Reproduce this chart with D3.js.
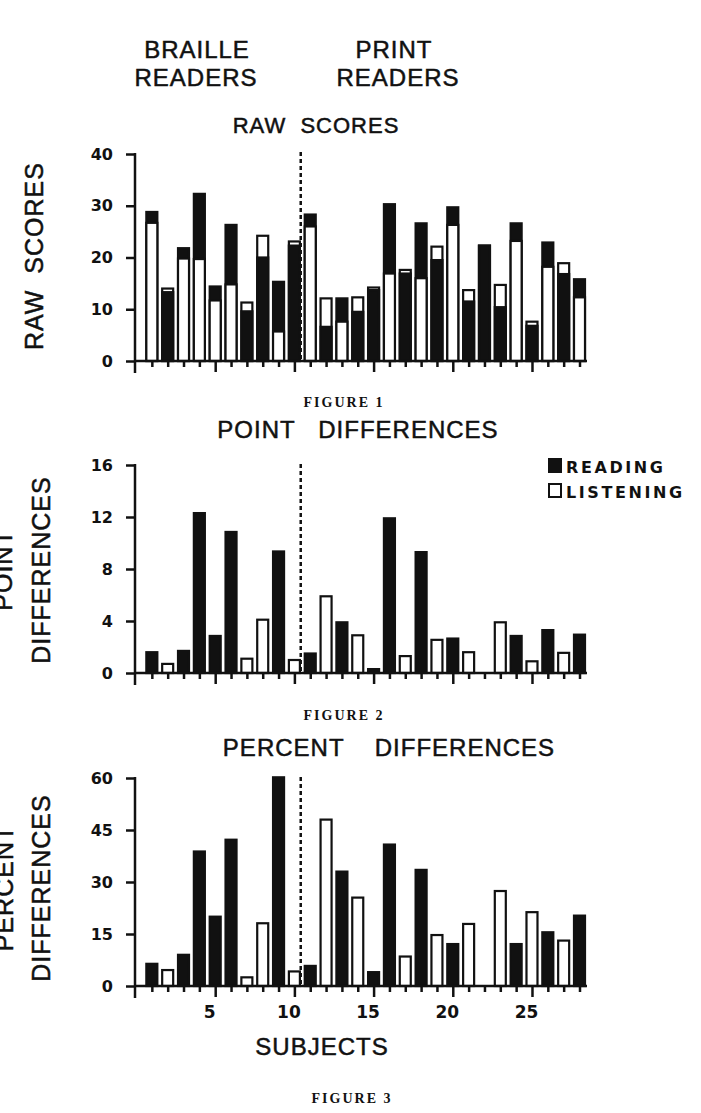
<!DOCTYPE html>
<html>
<head>
<meta charset="utf-8">
<script src="https://cdn.jsdelivr.net/npm/d3@7"></script>
<style>
  html, body { margin: 0; padding: 0; background: #fff; }
  svg { display: block; }
  .head { font-family: "Liberation Sans", Arial, sans-serif; fill: #111; stroke: #111; stroke-width: 0.5; letter-spacing: 1px; }
  .cap { font-family: "Liberation Serif", "DejaVu Serif", serif; font-weight: bold; fill: #111; letter-spacing: 2px; }
  .legend { font-family: "DejaVu Sans", sans-serif; font-weight: bold; fill: #111; letter-spacing: 2.6px; }
  .tick text { font-family: "DejaVu Sans", sans-serif; font-weight: bold; fill: #111; }
  .tick line, .axis-line { stroke: #111; stroke-width: 2.5; }
</style>
</head>
<body>
<svg id="chart" width="701" height="1113"></svg>
<script>
// subjects 1..28, braille readers 1-10, print readers 11-28
const subjects = d3.range(1, 29);

// Figure 1: raw scores
const reading = [28.8, 13.3, 21.8, 32.3, 14.4, 26.3, 9.6, 20.0, 15.3, 22.3,
  28.3, 6.6, 12.1, 9.5, 13.7, 30.3, 16.9, 26.6, 19.5, 29.7,
  11.5, 22.3, 10.4, 26.6, 6.8, 22.9, 16.8, 15.8];
const listening = [26.7, 14.0, 19.8, 19.7, 11.7, 14.8, 11.3, 24.2, 5.7, 23.1,
  26.0, 12.1, 7.6, 12.3, 14.2, 16.9, 17.6, 16.0, 22.1, 26.3,
  13.7, 22.3, 14.7, 23.2, 7.6, 18.2, 18.9, 12.3];

// which modality scored higher (R = reading, L = listening, "" = none)
const higher = ["R", "L", "R", "R", "R", "R", "L", "L", "R", "L",
  "R", "L", "R", "L", "R", "R", "L", "R", "L", "R",
  "L", "", "L", "R", "L", "R", "L", "R"];

// Figure 2: point differences
const pointDiff = [1.6, 0.7, 1.7, 12.3, 2.85, 10.85, 1.1, 4.1, 9.35, 1.0,
  1.5, 5.9, 3.9, 2.9, 0.3, 11.9, 1.3, 9.3, 2.55, 2.65,
  1.6, 0, 3.9, 2.85, 0.9, 3.3, 1.55, 2.95];

// Figure 3: percent differences
const percentDiff = [6.4, 4.6, 9.0, 38.8, 20.0, 42.2, 2.5, 18.1, 60.2, 4.2,
  5.8, 48.0, 33.0, 25.5, 4.0, 40.8, 8.5, 33.5, 14.7, 12.1,
  17.9, 0, 27.4, 12.1, 21.3, 15.5, 13.1, 20.3];

const rawTicks = [0, 10, 20, 30, 40];
const pointTicks = [0, 4, 8, 12, 16];
const percentTicks = [0, 15, 30, 45, 60];
const subjectLabels = [5, 10, 15, 20, 25];

const groupSplit = 10.4; // dashed line between braille and print readers
const barWidth = 11;
const colors = { R: "#111", L: "#fff" };

const svg = d3.select("#chart");
const x = d3.scaleLinear().domain([0, 28]).range([136, 579.5]);

/**
 * y軸（目盛と数値）を描く
 */
function drawYAxis(y, ticks) {
  const g = svg.append("g").attr("transform", "translate(135,0)");
  g.call(d3.axisLeft(y).tickValues(ticks).tickSize(9).tickPadding(13).tickSizeOuter(0));
  g.select(".domain").remove();
  g.selectAll(".tick text").attr("font-size", 16);
  svg.append("line").attr("class", "axis-line")
    .attr("x1", 135).attr("x2", 135)
    .attr("y1", y(ticks[ticks.length - 1]) - 1).attr("y2", y(0) + 12);
}

/**
 * x軸（被験者ごとの目盛）を描く
 */
function drawXAxis(y, withLabels) {
  const g = svg.append("g").attr("transform", `translate(0,${y(0)})`);
  g.call(d3.axisBottom(x).tickValues(d3.range(1, 29)).tickSize(6).tickPadding(14)
    .tickFormat((d) => (withLabels && subjectLabels.includes(d) ? d : "")));
  g.select(".domain").remove();
  g.selectAll(".tick line").attr("y2", (d) => (d % 5 === 0 ? 11 : 6));
  g.selectAll(".tick text").attr("font-size", 17).attr("dx", -6);
  svg.append("line").attr("class", "axis-line")
    .attr("x1", 134).attr("x2", 587)
    .attr("y1", y(0)).attr("y2", y(0));
}

/**
 * 点線の区切り（点字読者 / 活字読者）
 */
function drawDivider(y, top) {
  svg.append("line")
    .attr("x1", x(groupSplit)).attr("x2", x(groupSplit))
    .attr("y1", top).attr("y2", y(0))
    .attr("stroke", "#111").attr("stroke-width", 2.5)
    .attr("stroke-dasharray", "4,3");
}

/**
 * 図1: 読み・聴きの得点を重ねて描く（高い方を奥、低い方を手前）
 */
function drawRawBars(y) {
  const rows = subjects.map((s, i) => {
    const r = { key: "R", v: reading[i] };
    const l = { key: "L", v: listening[i] };
    const back = r.v > l.v ? r : l;
    const front = back === r ? l : r;
    return { s, back, front };
  });
  ["back", "front"].forEach((layer) => {
    svg.append("g").selectAll("rect")
      .data(rows)
      .join("rect")
      .attr("x", (d) => x(d.s) - barWidth / 2)
      .attr("width", barWidth)
      .attr("y", (d) => y(d[layer].v))
      .attr("height", (d) => y(0) - y(d[layer].v))
      .attr("fill", (d) => colors[d[layer].key])
      .attr("stroke", "#111")
      .attr("stroke-width", 2.2);
  });
}

/**
 * 図2・図3: 差の棒（高かった方の色）
 */
function drawDiffBars(y, values) {
  const rows = subjects.map((s, i) => ({ s, v: values[i], key: higher[i] }))
    .filter((d) => d.v > 0);
  svg.append("g").selectAll("rect")
    .data(rows)
    .join("rect")
    .attr("x", (d) => x(d.s) - barWidth / 2)
    .attr("width", barWidth)
    .attr("y", (d) => y(d.v))
    .attr("height", (d) => y(0) - y(d.v))
    .attr("fill", (d) => colors[d.key])
    .attr("stroke", "#111")
    .attr("stroke-width", 2.2);
}

/**
 * 縦書きの軸ラベル
 */
function drawYLabel(lines, cy) {
  lines.forEach((ln) => {
    svg.append("text").attr("class", "head")
      .attr("transform", `translate(${ln.x},${cy}) rotate(-90)`)
      .attr("text-anchor", "middle")
      .attr("font-size", 25)
      .attr("xml:space", "preserve")
      .text(ln.text);
  });
}

function addText(cls, str, cx, baseline, size, anchor = "middle") {
  svg.append("text").attr("class", cls)
    .attr("x", cx).attr("y", baseline)
    .attr("text-anchor", anchor)
    .attr("font-size", size)
    .attr("xml:space", "preserve")
    .text(str);
}

// headings
addText("head", "BRAILLE", 197, 58, 24);
addText("head", "READERS", 196, 86, 24);
addText("head", "PRINT", 394, 58, 24);
addText("head", "READERS", 398, 86, 24);

// Figure 1
const y1 = d3.scaleLinear().domain([0, 40]).range([361, 154]);
addText("head", "RAW  SCORES", 316, 133, 22);
drawRawBars(y1);
drawYAxis(y1, rawTicks);
drawXAxis(y1, false);
drawDivider(y1, 152);
drawYLabel([{ x: 43, text: "RAW  SCORES" }], 256);
addText("cap", "FIGURE 1", 344, 407, 14);

// Figure 2
const y2 = d3.scaleLinear().domain([0, 16]).range([673, 465]);
addText("head", "POINT   DIFFERENCES", 358, 438, 24);
drawDiffBars(y2, pointDiff);
drawYAxis(y2, pointTicks);
drawXAxis(y2, false);
drawDivider(y2, 464);
drawYLabel([{ x: 12, text: "POINT" }, { x: 50, text: "DIFFERENCES" }], 570);
addText("cap", "FIGURE 2", 344, 720, 14);

// legend
svg.append("rect").attr("x", 549).attr("y", 459).attr("width", 12).attr("height", 13)
  .attr("fill", "#111").attr("stroke", "#111").attr("stroke-width", 2);
svg.append("rect").attr("x", 549).attr("y", 484).attr("width", 12).attr("height", 13)
  .attr("fill", "#fff").attr("stroke", "#111").attr("stroke-width", 2);
addText("legend", "READING", 566, 473, 16, "start");
addText("legend", "LISTENING", 566, 498, 16, "start");

// Figure 3
const y3 = d3.scaleLinear().domain([0, 60]).range([986, 778]);
addText("head", "PERCENT    DIFFERENCES", 389, 756, 24);
drawDiffBars(y3, percentDiff);
drawYAxis(y3, percentTicks);
drawXAxis(y3, true);
drawDivider(y3, 777);
drawYLabel([{ x: 13, text: "PERCENT" }, { x: 50, text: "DIFFERENCES" }], 888);
addText("head", "SUBJECTS", 322, 1055, 24);
addText("cap", "FIGURE 3", 352, 1103, 14);
</script>
</body>
</html>
